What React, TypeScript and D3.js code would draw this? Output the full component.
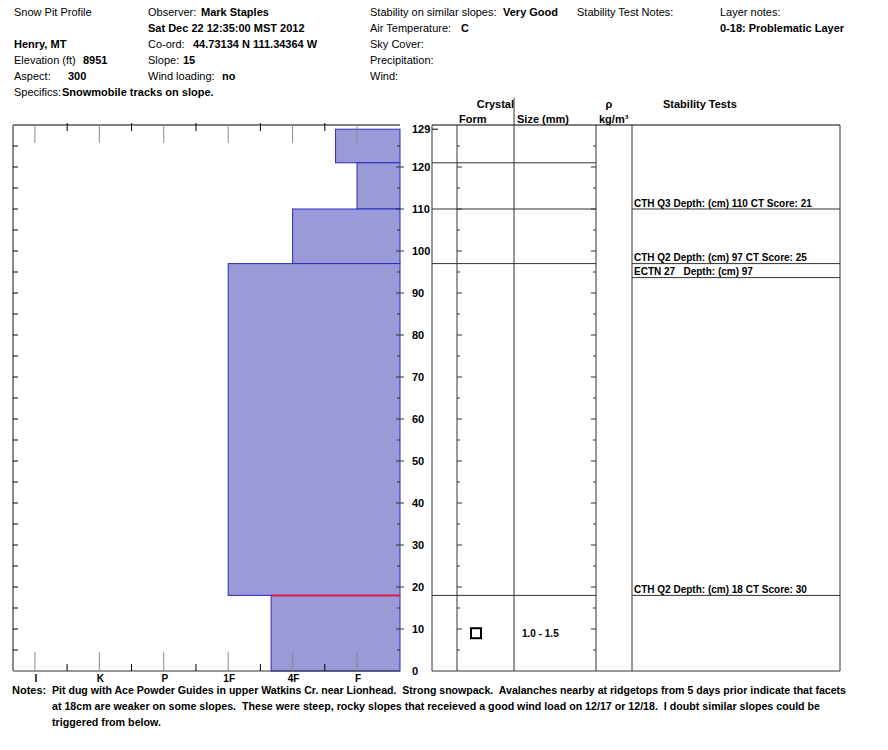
import React from 'react';
import * as d3 from 'd3';

// layers from top of the pit down (cm)
const layerTops = [129, 121, 110, 97, 18];
const layerBottoms = [121, 110, 97, 18, 0];
const layerHardness = ['F+', 'F', '4F', '1F', '4F+'];

const hardnessLabels = ['I', 'K', 'P', '1F', '4F', 'F'];
const hardnessValues = [6, 5, 4, 3, 2, 1];

const depthLabels = [0, 10, 20, 30, 40, 50, 60, 70, 80, 90, 100, 110, 120];
const snowDepth = 129;
const problemDepth = 18;

const grainDepths = [9];
const grainSizes = ['1.0 - 1.5'];

const testDepths = [110, 97, 97, 18];
const testLabels = [
  'CTH Q3 Depth: (cm) 110 CT Score: 21',
  'CTH Q2 Depth: (cm) 97 CT Score: 25',
  'ECTN 27   Depth: (cm) 97',
  'CTH Q2 Depth: (cm) 18 CT Score: 30',
];

const notesLines = [
  'Pit dug with Ace Powder Guides in upper Watkins Cr. near Lionhead.  Strong snowpack.  Avalanches nearby at ridgetops from 5 days prior indicate that facets',
  'at 18cm are weaker on some slopes.  These were steep, rocky slopes that receieved a good wind load on 12/17 or 12/18.  I doubt similar slopes could be',
  'triggered from below.',
];
const notesWidths = [794, 768, 109];

const hardnessNum = (h: string) => {
  const base = h.replace(/[+-]/g, '');
  let v = hardnessValues[hardnessLabels.indexOf(base)];
  if (h.endsWith('+')) v += 1 / 3;
  if (h.endsWith('-')) v -= 1 / 3;
  return v;
};

const FONT = '"Liberation Sans", Arial, sans-serif';

const T: React.FC<{ x: number; y: number; b?: boolean; anchor?: string; size?: number; children: React.ReactNode }> = ({ x, y, b, anchor, size, children }) => (
  <text x={x} y={y} dy="0.35em" fontWeight={b ? 'bold' : 'normal'} textAnchor={anchor || 'start'}
    fontSize={size} style={{ whiteSpace: 'pre' }}>
    {children}
  </text>
);

export default function App() {
  const y = d3.scaleLinear().domain([0, 130]).range([671, 125]);
  const x = d3.scaleLinear().domain([6.34, 0.333]).range([13, 400]);
  const left = 13, right = 400;
  const colAxis = 432, colForm = 457, colSize = 514, colRho = 596, colTest = 632, colEnd = 840;

  const fiveTicks = d3.range(5, 130, 5);
  const minorH = d3.range(5.5, 0.9, -1);

  // stability test rows: text sits above its depth line, pushed down if overlapping
  const rowH = 14;
  let prev = -Infinity;
  const testRows = testDepths.map((d, i) => {
    const bottom = Math.max(y(d), prev + rowH);
    prev = bottom;
    return { bottom, label: testLabels[i] };
  });

  const grey = '#8a8a8a';
  const dark = '#333';

  return (
    <svg width={888} height={750} style={{ position: 'absolute', left: 0, top: 0, background: '#fff' }}
      fontFamily={FONT} fontSize={11} fill="#000">
      {/* header */}
      <T x={14} y={12}>Snow Pit Profile</T>
      <T x={14} y={44} b>Henry, MT</T>
      <T x={14} y={60}>Elevation (ft)</T><T x={83} y={60} b>8951</T>
      <T x={14} y={76}>Aspect:</T><T x={68} y={76} b>300</T>
      <T x={14} y={92}>Specifics:</T><T x={62} y={92} b>Snowmobile tracks on slope.</T>

      <T x={148} y={12}>Observer:</T><T x={201} y={12} b>Mark Staples</T>
      <T x={148} y={28} b>Sat Dec 22 12:35:00 MST 2012</T>
      <T x={148} y={44}>Co-ord:</T><T x={193} y={44} b>44.73134 N 111.34364 W</T>
      <T x={148} y={60}>Slope:</T><T x={183} y={60} b>15</T>
      <T x={148} y={76}>Wind loading:</T><T x={222} y={76} b>no</T>

      <T x={370} y={12}>Stability on similar slopes:</T><T x={503} y={12} b>Very Good</T>
      <T x={370} y={28}>Air Temperature:</T><T x={461} y={28} b>C</T>
      <T x={370} y={44}>Sky Cover:</T>
      <T x={370} y={60}>Precipitation:</T>
      <T x={370} y={76}>Wind:</T>

      <T x={577} y={12}>Stability Test Notes:</T>
      <T x={720} y={12}>Layer notes:</T>
      <T x={720} y={28} b>0-18: Problematic Layer</T>

      {/* hardness profile */}
      {layerTops.map((t, i) => {
        const x0 = x(hardnessNum(layerHardness[i]));
        return (
          <rect key={i} x={x0} y={y(t)} width={right - x0} height={y(layerBottoms[i]) - y(t)}
            fill="#9a9ad8" stroke="#2a2ac0" strokeWidth={1} />
        );
      })}
      {(() => {
        const i = layerTops.indexOf(problemDepth);
        const x0 = x(hardnessNum(layerHardness[i]));
        return <line x1={x0} x2={right} y1={y(problemDepth)} y2={y(problemDepth)} stroke="#e0204a" strokeWidth={2} />;
      })()}

      {/* left chart frame */}
      <line x1={left} x2={right} y1={y(130)} y2={y(130)} stroke="#000" />
      <line x1={left} x2={right} y1={y(0)} y2={y(0)} stroke={dark} />
      <line x1={left} x2={left} y1={y(130)} y2={y(0)} stroke={grey} strokeWidth={2} />
      {fiveTicks.map(d => (
        <line key={'l' + d} x1={left} x2={left + 5} y1={y(d)} y2={y(d)} stroke="#000" />
      ))}
      {fiveTicks.map(d => (
        <line key={'r' + d} x1={d % 10 === 0 ? right - 4 : right - 3} x2={d % 10 === 0 ? right + 4 : right} y1={y(d)} y2={y(d)} stroke={dark} />
      ))}
      {hardnessValues.map(h => (
        <g key={'h' + h}>
          <line x1={x(h)} x2={x(h)} y1={y(130)} y2={y(130) + 18} stroke={grey} />
          <line x1={x(h)} x2={x(h)} y1={y(0) - 19} y2={y(0)} stroke={grey} />
        </g>
      ))}
      {minorH.map(h => (
        <g key={'m' + h}>
          <line x1={x(h)} x2={x(h)} y1={y(130) - 2} y2={y(130) + 6} stroke="#000" />
          <line x1={x(h)} x2={x(h)} y1={y(0) - 7} y2={y(0)} stroke="#000" />
        </g>
      ))}
      {hardnessLabels.map((l, i) => (
        <T key={l} x={x(hardnessValues[i]) + 1} y={678} b size={10} anchor="middle">{l}</T>
      ))}

      {/* depth axis labels */}
      {depthLabels.map(d => (
        <T key={'d' + d} x={412} y={y(d)} b>{d}</T>
      ))}
      <T x={412} y={y(snowDepth)} b>{snowDepth}</T>
      <line x1={colAxis} x2={colAxis + 6} y1={y(snowDepth)} y2={y(snowDepth)} stroke="#000" />

      {/* column headers */}
      <T x={514} y={104} b anchor="end">Crystal</T>
      <T x={459} y={119} b>Form</T>
      <T x={517} y={119} b>Size (mm)</T>
      <T x={609} y={104} b anchor="middle">ρ</T>
      <T x={599} y={119} b>kg/m³</T>
      <T x={663} y={104} b>Stability Tests</T>

      {/* grid */}
      <line x1={colAxis} x2={colEnd} y1={y(130)} y2={y(130)} stroke="#000" />
      <line x1={colAxis} x2={colEnd} y1={y(0)} y2={y(0)} stroke={dark} />
      {[colAxis, colForm, colRho, colTest, colEnd].map(c => (
        <line key={'c' + c} x1={c} x2={c} y1={y(130)} y2={y(0)} stroke={dark} />
      ))}
      <line x1={colSize} x2={colSize} y1={98} y2={y(0)} stroke={dark} />
      {fiveTicks.map(d => (
        <g key={'g' + d}>
          <line x1={colForm} x2={colForm + (d % 10 === 0 ? 5 : 3)} y1={y(d)} y2={y(d)} stroke={dark} />
          <line x1={colRho - (d % 10 === 0 ? 5 : 3)} x2={colRho} y1={y(d)} y2={y(d)} stroke={dark} />
        </g>
      ))}
      {layerTops.slice(1).map(d => (
        <line key={'b' + d} x1={colAxis} x2={colRho} y1={y(d)} y2={y(d)} stroke={dark} />
      ))}

      {/* grain form & size */}
      {grainDepths.map((d, i) => (
        <g key={'gr' + i}>
          <rect x={471} y={y(d) - 5} width={10} height={10} fill="none" stroke="#000" strokeWidth={2} />
          <T x={522} y={y(d)} b size={10}>{grainSizes[i]}</T>
        </g>
      ))}

      {/* stability tests */}
      {testRows.map((r, i) => (
        <g key={'t' + i}>
          <line x1={colTest} x2={colEnd} y1={r.bottom} y2={r.bottom} stroke={dark} />
          <T x={634} y={r.bottom - 6} b size={10}>{r.label}</T>
        </g>
      ))}

      {/* notes */}
      <T x={12} y={690} b>Notes:</T>
      {notesLines.map((l, i) => (
        <text key={'n' + i} x={52} y={690 + i * 16} dy="0.35em" fontWeight="bold"
          textLength={notesWidths[i]} lengthAdjust="spacingAndGlyphs" style={{ whiteSpace: 'pre' }}>{l}</text>
      ))}
    </svg>
  );
}
